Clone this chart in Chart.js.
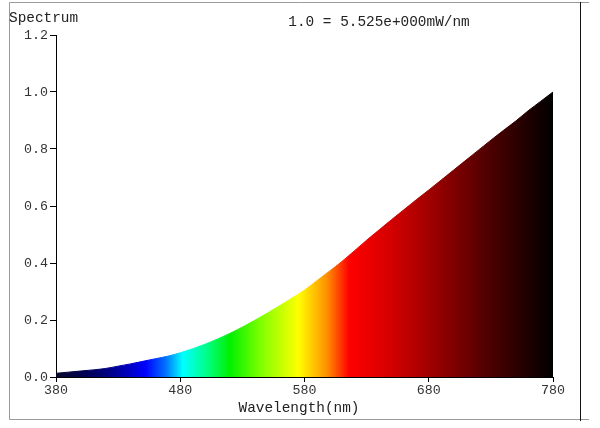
<!DOCTYPE html>
<html>
<head>
<meta charset="utf-8">
<script src="https://cdn.jsdelivr.net/npm/chart.js@4.4.0/dist/chart.umd.min.js"></script>
<style>
  html, body { margin: 0; padding: 0; background: #fff; }
  #wrap { width: 600px; height: 428px; position: relative; }
</style>
</head>
<body>
<div id="wrap"><canvas id="spectrumChart" width="600" height="428"></canvas></div>
<script>
// Spectrum data (relative power, 10 nm steps)
const wavelengths = [380, 390, 400, 410, 420, 430, 440, 450, 460, 470,
                     480, 490, 500, 510, 520, 530, 540, 550, 560, 570,
                     580, 590, 600, 610, 620, 630, 640, 650, 660, 670,
                     680, 690, 700, 710, 720, 730, 740, 750, 760, 770, 780];
const relPower = [0.013, 0.017, 0.021, 0.025, 0.030, 0.038, 0.046, 0.055, 0.064, 0.073,
                  0.085, 0.099, 0.115, 0.133, 0.153, 0.175, 0.199, 0.224, 0.250, 0.277,
                  0.305, 0.338, 0.371, 0.405, 0.442, 0.480, 0.516, 0.552, 0.587, 0.622,
                  0.656, 0.691, 0.726, 0.761, 0.796, 0.831, 0.865, 0.898, 0.934, 0.967, 1.000];
const xTicks = [380, 480, 580, 680, 780];
const yTicks = [0.0, 0.2, 0.4, 0.6, 0.8, 1.0, 1.2];

// colour of the spectrum at each wavelength
const colorStops = [
    [380, '#0a0a30'], [400, '#00004c'], [420, '#00007c'], [440, '#0000c8'],
    [452, '#0000ff'], [468, '#0070ff'], [482, '#00ffff'], [500, '#00ff90'],
    [520, '#00f000'], [545, '#80ff00'], [575, '#ffff00'], [598, '#ff9000'],
    [616, '#ff0000'], [650, '#d40000'], [681, '#a00000'], [727, '#500000'],
    [760, '#1e0000'], [780, '#000000']
];

const FONT = '"Liberation Mono", "Courier New", monospace';

function spectrumFill(context) {
    const chart = context.chart;
    const area = chart.chartArea;
    if (!area) return '#888';
    const xs = chart.scales.x;
    const x0 = xs.getPixelForValue(380);
    const x1 = xs.getPixelForValue(780);
    const g = chart.ctx.createLinearGradient(x0, 0, x1, 0);
    colorStops.forEach(s => g.addColorStop((s[0] - 380) / 400, s[1]));
    return g;
}

// Frame and free text
const decorations = {
    id: 'decorations',
    afterDraw(chart) {
        const ctx = chart.ctx;
        ctx.save();
        ctx.strokeStyle = '#9a9a9a';
        ctx.lineWidth = 1;
        ctx.beginPath();
        ctx.moveTo(589, 2.5); ctx.lineTo(9.5, 2.5); ctx.lineTo(9.5, 419.5); ctx.lineTo(589, 419.5);
        ctx.stroke();
        ctx.strokeStyle = '#111';
        ctx.beginPath();
        ctx.moveTo(580.5, 2); ctx.lineTo(580.5, 421);
        ctx.stroke();

        ctx.fillStyle = '#222';
        ctx.font = '14.4px ' + FONT;
        ctx.textBaseline = 'alphabetic';
        ctx.textAlign = 'left';
        ctx.fillText('Spectrum', 9, 22);
        ctx.textAlign = 'center';
        ctx.fillText('1.0 = 5.525e+000mW/nm', 379, 26);
        ctx.fillText('Wavelength(nm)', 299, 412);
        ctx.restore();
    }
};

new Chart(document.getElementById('spectrumChart'), {
    type: 'line',
    data: {
        datasets: [{
            data: wavelengths.map((w, i) => ({ x: w, y: relPower[i] })),
            fill: 'origin',
            backgroundColor: spectrumFill,
            borderColor: spectrumFill,
            borderWidth: 1,
            pointRadius: 0,
            cubicInterpolationMode: 'monotone'
        }]
    },
    options: {
        responsive: false,
        animation: false,
        layout: { padding: { top: 35, right: 47, left: 0, bottom: 0 } },
        plugins: { legend: { display: false }, tooltip: { enabled: false } },
        scales: {
            x: {
                type: 'linear',
                min: 380, max: 780,
                afterBuildTicks: s => { s.ticks = xTicks.map(v => ({ value: v })); },
                afterFit: s => { s.height = 51; },
                grid: { drawOnChartArea: false, drawTicks: true, tickLength: 5, color: '#000' },
                border: { display: true, color: '#000', width: 1 },
                ticks: { color: '#333', padding: 0, maxRotation: 0, font: { family: FONT, size: 13.3 } }
            },
            y: {
                min: 0, max: 1.2,
                afterBuildTicks: s => { s.ticks = yTicks.map(v => ({ value: v })); },
                afterFit: s => { s.width = 56; },
                grid: { drawOnChartArea: false, drawTicks: true, tickLength: 6, color: '#000' },
                border: { display: true, color: '#000', width: 1 },
                ticks: { color: '#333', padding: 2, font: { family: FONT, size: 13.3 },
                         callback: v => Number(v).toFixed(1) }
            }
        }
    },
    plugins: [decorations]
});
</script>
</body>
</html>
